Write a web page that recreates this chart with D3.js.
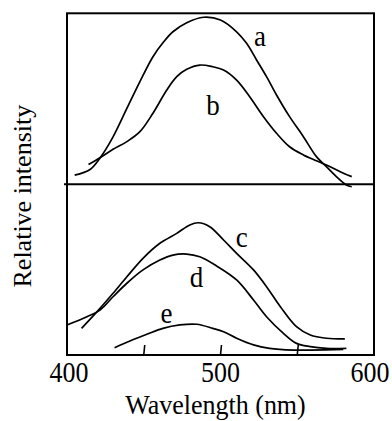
<!DOCTYPE html>
<html>
<head>
<meta charset="utf-8">
<script src="https://cdn.jsdelivr.net/npm/d3@7"></script>
<style>
  html, body { margin: 0; padding: 0; background: #fff; }
</style>
</head>
<body>
<svg id="chart" width="392" height="421"></svg>
<script>
// ---- data (wavelength in nm, relative intensity; top panel offset by 100) ----
const wlA = [405,415,421.5,430,439,447.5,456,463,469,478,489,500,510.5,517,523.5,530,536.5,545,554,562.5,569,575.5,582,585.5];
const valA = [105.3,108.6,115.3,127.7,144.3,160,174.6,183.3,189.2,194.5,197.7,196.1,189.2,182.4,172.7,162.9,152.2,139.5,127.8,116.1,110.2,104.4,99.5,98.5];

const wlB = [414,421.5,430,439,447.5,456,465,471.5,478,486.5,495,502,510.5,519,528,536.5,545,554,562.5,569,578,585.5];
const valB = [111.5,115.5,120.4,124.9,130.7,141.5,155.1,162.9,167.2,169.7,168.7,166.8,160.9,151.2,139.5,129.8,121.9,117.1,113.7,111.2,107.3,104.4];

const wlC = [409.5,421.5,430,439,449.5,460.5,471.5,480,485.5,493,502,510.5,521.5,530,539,549.5,558.5,569,581];
const valC = [15.6,27.3,36.1,45.8,56.6,65.4,71.2,76.1,77.4,75.1,67.3,59.5,49.8,40,28.3,16.6,11.7,9.8,9.4];

const wlD = [400,413,421.5,430,439,449.5,460.5,469,478,486.5,497.5,510.5,521.5,530,541,549.5,558.5,569,582];
const valD = [17.6,22.4,26.3,34.1,42,49.8,55.6,58.5,59.1,57.5,52.1,43.9,32.2,22.4,12.7,6.8,4.9,3.9,3.9];

const wlE = [431,441,452,462.5,473.5,484.5,495,502,510.5,521.5,532,547.5,558.5,580];
const valE = [4.3,8.2,12.1,15.6,17.6,18,15.6,13.6,9.8,5.9,3.9,2.9,2.9,3.3];

const seriesNames = ["a","b","c","d","e"];
// label anchor points in data coordinates (wavelength, intensity)
const labelWl = [525.7, 495.1, 513.8, 484.4, 464.8];
const labelVal = [180.9, 140.5, 63.5, 39.8, 18.7];

const xTickLabels = [400, 500, 600];
const xTickMarks = [450, 500, 550];
const panelDivider = 100;

// ---- layout ----
const FONT = "'Liberation Serif', 'Times New Roman', Times, serif";
const svg = d3.select("#chart");
const pLeft = 67, pRight = 374, pTop = 13.3, pBottom = 355;
const x = d3.scaleLinear().domain([400, 600]).range([pLeft, pRight]);
const y = d3.scaleLinear().domain([0, 200]).range([pBottom, pTop]);

const series = [
  {wl: wlA, v: valA}, {wl: wlB, v: valB}, {wl: wlC, v: valC},
  {wl: wlD, v: valD}, {wl: wlE, v: valE}
];

const line = d3.line()
  .x(d => x(d[0])).y(d => y(d[1]))
  .curve(d3.curveCatmullRom.alpha(0.5));

// curves
svg.append("g").selectAll("path")
  .data(series)
  .join("path")
  .attr("d", s => line(s.wl.map((w, i) => [w, s.v[i]])))
  .attr("fill", "none")
  .attr("stroke", "#000")
  .attr("stroke-width", 1.7)
  .attr("stroke-linejoin", "round");

// frame
svg.append("rect")
  .attr("x", x(400)).attr("y", y(200))
  .attr("width", x(600) - x(400)).attr("height", y(0) - y(200))
  .attr("fill", "none").attr("stroke", "#000").attr("stroke-width", 2);

// divider
svg.append("line")
  .attr("x1", x(400) - 3).attr("x2", x(600))
  .attr("y1", y(panelDivider)).attr("y2", y(panelDivider))
  .attr("stroke", "#000").attr("stroke-width", 2);

// inward tick marks
svg.append("g").selectAll("line")
  .data(xTickMarks)
  .join("line")
  .attr("x1", d => x(d)).attr("x2", d => x(d) + 1)
  .attr("y1", y(0)).attr("y2", y(0) - 10)
  .attr("stroke", "#000").attr("stroke-width", 1.6);

// tick labels
const sy = 1.1;
svg.append("g").selectAll("text")
  .data(xTickLabels)
  .join("text")
  .attr("transform", (d, i) => {
    const dx = i === 0 ? 2 : (i === xTickLabels.length - 1 ? -4 : 0);
    return `translate(${x(d) + dx},${381.5}) scale(1,${sy})`;
  })
  .attr("text-anchor", "middle")
  .attr("font-family", FONT)
  .attr("font-size", 26)
  .text(d => d);

// x axis title
svg.append("text")
  .attr("transform", `translate(${x(500) - 5},${414}) scale(1,1.04)`)
  .attr("text-anchor", "middle")
  .attr("font-family", FONT)
  .attr("font-size", 26)
  .text("Wavelength (nm)");

// y axis title
svg.append("text")
  .attr("transform", `translate(${31},${(y(0) + y(200)) / 2 + 12}) rotate(-90)`)
  .attr("text-anchor", "middle")
  .attr("font-family", FONT)
  .attr("font-size", 26)
  .text("Relative intensity");

// curve labels
svg.append("g").selectAll("text")
  .data(seriesNames)
  .join("text")
  .attr("transform", (d, i) => `translate(${x(labelWl[i])},${y(labelVal[i])}) scale(1,${sy})`)
  .attr("text-anchor", "middle")
  .attr("font-family", FONT)
  .attr("font-size", 27)
  .text(d => d);
</script>
</body>
</html>
